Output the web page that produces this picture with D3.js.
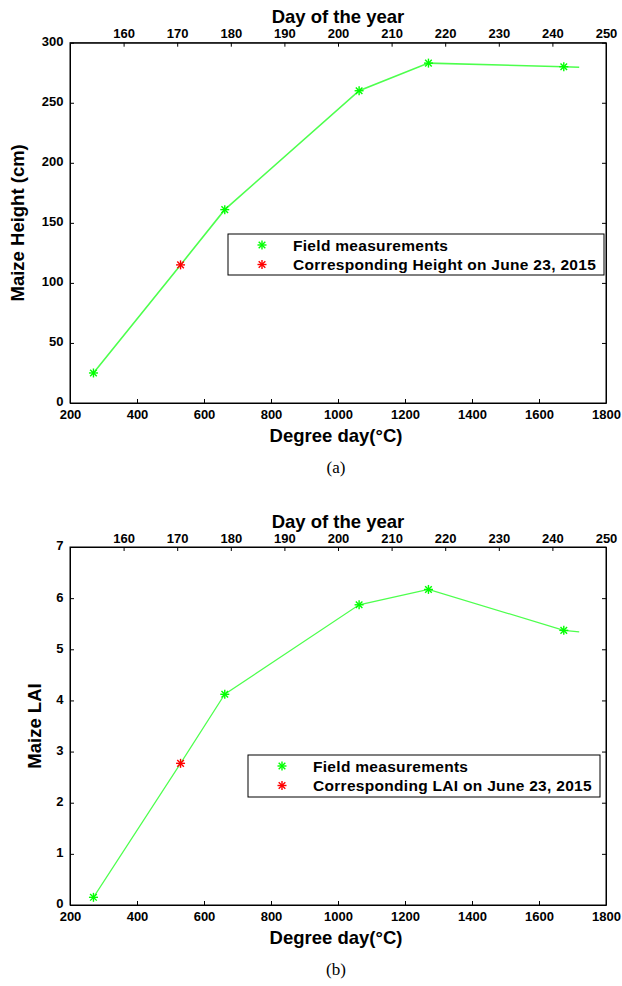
<!DOCTYPE html>
<html>
<head>
<meta charset="utf-8">
<script src="https://cdn.jsdelivr.net/npm/d3@7"></script>
<style>
  html, body { margin: 0; padding: 0; background: #fff; }
  svg { display: block; }
  .ax text { font-family: "Liberation Sans", Arial, sans-serif; font-weight: bold; font-size: 13px; fill: #000; }
  .ax path, .ax line { stroke: #000; }
  .title { font-family: "Liberation Sans", Arial, sans-serif; font-weight: bold; font-size: 18.5px; fill: #000; }
  .leg { font-family: "Liberation Sans", Arial, sans-serif; font-weight: bold; font-size: 15.5px; fill: #000; letter-spacing: 0.3px; }
  .cap { font-family: "Liberation Serif", "Times New Roman", serif; font-size: 17px; fill: #000; }
</style>
</head>
<body>
<svg id="chart" width="622" height="986"></svg>
<script>
// Axis ticks
const degreeDayTicks = [200, 400, 600, 800, 1000, 1200, 1400, 1600, 1800];
const dayOfYearTicks = [160, 170, 180, 190, 200, 210, 220, 230, 240, 250];
const heightTicks = [0, 50, 100, 150, 200, 250, 300];
const laiTicks = [0, 1, 2, 3, 4, 5, 6, 7];

// Field measurements (degree days vs. crop variables)
const fieldDegreeDays = [270, 662, 1063, 1270, 1674];
const fieldHeight = [25, 161, 260, 283, 280];
const fieldLAI = [0.15, 4.12, 5.87, 6.17, 5.37];

// Values on June 23, 2015
const june23DegreeDays = [530];
const june23Height = [115];
const june23LAI = [2.77];

// Seasonal curve (runs to day 245)
const curveDegreeDays = [270, 530, 662, 1063, 1270, 1674, 1720];
const curveHeight = [25, 115, 161, 260, 283, 280, 279.5];
const curveLAI = [0.15, 2.77, 4.12, 5.87, 6.17, 5.37, 5.34];

const svg = d3.select("#chart");
svg.append("rect").attr("width", 622).attr("height", 986).attr("fill", "#fff");

const GREEN = "#00ff00", RED = "#ff0000", LINE = "#4dff4d";

function asterisk(g, cx, cy, color) {
  const r = 4.5, d = 3.3;
  const s = g.append("g").attr("stroke", color).attr("stroke-width", 1.4);
  s.append("line").attr("x1", cx - r).attr("x2", cx + r).attr("y1", cy).attr("y2", cy);
  s.append("line").attr("x1", cx).attr("x2", cx).attr("y1", cy - r).attr("y2", cy + r);
  s.append("line").attr("x1", cx - d).attr("x2", cx + d).attr("y1", cy - d).attr("y2", cy + d);
  s.append("line").attr("x1", cx - d).attr("x2", cx + d).attr("y1", cy + d).attr("y2", cy - d);
}

function panel(cfg) {
  const L = 70, R = 606, T = cfg.top, B = cfg.bottom;
  const x = d3.scaleLinear().domain([200, 1800]).range([L, R]);
  const xDay = d3.scaleLinear().domain([150, 250]).range([L, R]);
  const y = d3.scaleLinear().domain(cfg.yDomain).range([B, T]);
  const g = svg.append("g");

  // frame
  g.append("rect").attr("x", L).attr("y", T).attr("width", R - L).attr("height", B - T)
    .attr("fill", "none").attr("stroke", "#000").attr("stroke-width", 1);

  g.append("g").attr("class", "ax").attr("transform", `translate(0,${B})`)
    .call(d3.axisBottom(x).tickValues(degreeDayTicks).tickSize(-4).tickSizeOuter(0).tickPadding(6.5).tickFormat(d3.format("d")));
  g.append("g").attr("class", "ax").attr("transform", `translate(0,${T})`)
    .call(d3.axisTop(xDay).tickValues(dayOfYearTicks).tickSize(-4).tickSizeOuter(0).tickPadding(4.5).tickFormat(d3.format("d")));
  g.append("g").attr("class", "ax").attr("transform", `translate(${L},0)`)
    .call(d3.axisLeft(y).tickValues(cfg.yTicks).tickSize(-4).tickSizeOuter(0).tickPadding(6.5).tickFormat(d3.format("d")))
    .selectAll("text").attr("dy", "0.22em");
  g.append("g").attr("class", "ax").attr("transform", `translate(${R},0)`)
    .call(d3.axisRight(y).tickValues(cfg.yTicks).tickSize(-4).tickSizeOuter(0).tickFormat(""));

  // titles
  g.append("text").attr("class", "title").attr("x", (L + R) / 2).attr("y", T - 19.5)
    .attr("text-anchor", "middle").text("Day of the year");
  g.append("text").attr("class", "title").attr("x", (L + R) / 2 - 2).attr("y", B + 39)
    .attr("text-anchor", "middle").text("Degree day(°C)");
  g.append("text").attr("class", "title").attr("text-anchor", "middle")
    .attr("transform", `translate(${cfg.yLabelX},${(T + B) / 2}) rotate(-90)`)
    .attr("dy", "0.35em").text(cfg.yLabel);
  g.append("text").attr("class", "cap").attr("x", 336).attr("y", B + 70)
    .attr("text-anchor", "middle").text(cfg.caption);

  // curve
  const line = d3.line().x(d => x(d[0])).y(d => y(d[1]));
  g.append("path").datum(d3.zip(curveDegreeDays, cfg.curve))
    .attr("d", line).attr("fill", "none").attr("stroke", LINE).attr("stroke-width", cfg.lineWidth);

  // markers
  fieldDegreeDays.forEach((d, i) => asterisk(g, x(d), y(cfg.field[i]), GREEN));
  june23DegreeDays.forEach((d, i) => asterisk(g, x(d), y(cfg.june23[i]), RED));

  // legend
  const lg = cfg.legend;
  g.append("rect").attr("x", lg.x).attr("y", lg.y).attr("width", lg.w).attr("height", lg.h)
    .attr("fill", "#fff").attr("stroke", "#000").attr("stroke-width", 1);
  const rows = [["Field measurements", GREEN], [cfg.redLabel, RED]];
  rows.forEach((r, i) => {
    const cy = lg.y + 11 + i * 19.5;
    asterisk(g, lg.x + 34, cy, r[1]);
    g.append("text").attr("class", "leg").attr("x", lg.x + 65).attr("y", cy + 5.5).text(r[0]);
  });
}

panel({
  top: 42.7, bottom: 403, yDomain: [0, 300], yTicks: heightTicks,
  yLabel: "Maize Height (cm)", yLabelX: 18, caption: "(a)",
  field: fieldHeight, june23: june23Height, curve: curveHeight, lineWidth: 1.6,
  redLabel: "Corresponding Height on June 23, 2015",
  legend: { x: 228, y: 234, w: 376, h: 41 }
});

panel({
  top: 547, bottom: 905, yDomain: [0, 7], yTicks: laiTicks,
  yLabel: "Maize LAI", yLabelX: 35, caption: "(b)",
  field: fieldLAI, june23: june23LAI, curve: curveLAI, lineWidth: 1.2,
  redLabel: "Corresponding LAI on June 23, 2015",
  legend: { x: 248, y: 755, w: 352, h: 42 }
});
</script>
</body>
</html>
